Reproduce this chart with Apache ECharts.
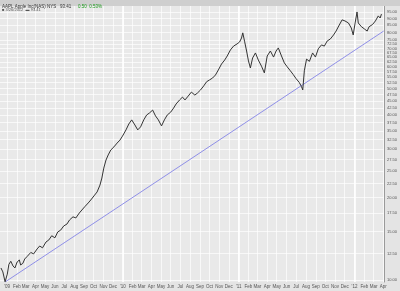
<!DOCTYPE html>
<html><head><meta charset="utf-8">
<script src="https://cdn.jsdelivr.net/npm/echarts@6/dist/echarts.min.js"></script>
<style>html,body{margin:0;padding:0;background:#e4e4e4}#c{width:400px;height:291px}</style>
</head><body><div id="c"></div>
<script>
const dates = ['2008-12-13','2008-12-19','2008-12-26','2009-01-02','2009-01-07','2009-01-13','2009-01-20','2009-01-26','2009-02-02','2009-02-09','2009-02-13','2009-02-20','2009-02-26','2009-03-06','2009-03-17','2009-03-26','2009-04-06','2009-04-14','2009-04-23','2009-05-04','2009-05-13','2009-05-22','2009-06-01','2009-06-10','2009-06-19','2009-06-29','2009-07-09','2009-07-17','2009-07-28','2009-08-06','2009-08-17','2009-08-25','2009-09-03','2009-09-14','2009-09-22','2009-10-02','2009-10-12','2009-10-21','2009-10-27','2009-11-02','2009-11-09','2009-11-16','2009-11-24','2009-12-04','2009-12-14','2009-12-23','2009-12-31','2010-01-11','2010-01-20','2010-01-29','2010-02-08','2010-02-17','2010-02-26','2010-03-08','2010-03-17','2010-03-26','2010-04-05','2010-04-14','2010-04-23','2010-05-03','2010-05-12','2010-05-21','2010-06-01','2010-06-10','2010-06-18','2010-06-29','2010-07-08','2010-07-16','2010-07-26','2010-08-05','2010-08-16','2010-08-24','2010-09-03','2010-09-13','2010-09-22','2010-10-01','2010-10-11','2010-10-20','2010-10-29','2010-11-08','2010-11-18','2010-11-26','2010-12-06','2010-12-16','2010-12-27','2011-01-04','2011-01-10','2011-01-14','2011-01-20','2011-01-26','2011-02-01','2011-02-07','2011-02-14','2011-02-23','2011-03-04','2011-03-14','2011-03-23','2011-04-01','2011-04-11','2011-04-21','2011-04-29','2011-05-06','2011-05-16','2011-05-25','2011-06-03','2011-06-13','2011-06-22','2011-07-01','2011-07-11','2011-07-18','2011-07-22','2011-07-27','2011-08-03','2011-08-12','2011-08-22','2011-08-31','2011-09-09','2011-09-19','2011-09-28','2011-10-07','2011-10-17','2011-10-27','2011-11-04','2011-11-14','2011-11-23','2011-12-02','2011-12-13','2011-12-22','2011-12-28','2012-01-03','2012-01-09','2012-01-13','2012-01-23','2012-02-01','2012-02-10','2012-02-16','2012-02-27','2012-03-07','2012-03-16','2012-03-22','2012-03-26'];
const closes = [11.06,10.7,9.85,10.5,11.4,11.7,11.25,11.06,11.63,11.83,11.34,11.5,11.93,12.2,12.6,12.45,12.98,13.3,13.1,13.76,14.0,14.5,14.25,14.97,15.2,15.75,16.0,16.55,17.0,16.84,17.56,18.0,18.5,19.1,19.58,20.26,20.95,22.2,23.55,25.6,27.4,28.6,29.8,30.6,31.6,32.4,33.5,35.3,37.1,38.4,36.8,35.3,36.2,38.4,40.0,40.7,41.7,39.7,38.4,36.5,38.4,40.0,41.0,42.4,43.9,45.4,46.5,45.4,46.9,48.5,47.3,48.1,49.4,51.1,52.9,53.7,54.6,56.0,58.4,61.4,63.5,65.7,69.1,71.4,72.7,73.9,76.4,79.8,74.0,68.5,63.0,59.4,64.6,67.4,63.5,60.3,57.0,65.7,68.5,65.1,68.5,70.3,65.7,62.0,60.0,58.0,56.2,54.3,52.6,50.8,49.4,58.0,64.0,62.8,67.4,65.1,69.8,72.1,71.4,74.5,75.8,78.4,81.0,85.2,89.0,88.2,86.7,83.1,78.4,86.7,95.1,86.7,84.0,82.5,81.0,84.0,85.6,88.2,92.0,90.4,93.41];
const trendDates = ['2008-12-26','2012-04-02'];
const trendValues = [9.83, 81.0];
const priceTicks = [10,12.5,15,17.5,20,22.5,25,27.5,30,32.5,35,37.5,40,42.5,45,47.5,50,52.5,55,57.5,60,62.5,65,67.5,70,72.5,75,80,85,90,95];
const monthTicks = ['2009-01-01','2009-02-01','2009-03-01','2009-04-01','2009-05-01','2009-06-01','2009-07-01','2009-08-01','2009-09-01','2009-10-01','2009-11-01','2009-12-01','2010-01-01','2010-02-01','2010-03-01','2010-04-01','2010-05-01','2010-06-01','2010-07-01','2010-08-01','2010-09-01','2010-10-01','2010-11-01','2010-12-01','2011-01-01','2011-02-01','2011-03-01','2011-04-01','2011-05-01','2011-06-01','2011-07-01','2011-08-01','2011-09-01','2011-10-01','2011-11-01','2011-12-01','2012-01-01','2012-02-01','2012-03-01','2012-04-01'];
const yearTicks = ['2010-01-01','2011-01-01','2012-01-01'];
const monthNames = ['Jan','Feb','Mar','Apr','May','Jun','Jul','Aug','Sep','Oct','Nov','Dec'];

const ts = s => new Date(s + 'T00:00:00').getTime();
const chart = echarts.init(document.getElementById('c'), null, {renderer:'canvas'});
const xMin = ts('2008-12-10'), xMax = ts('2012-04-03');
const yMin = 9.83, yMax = 100;
const lblFont = 'Liberation Sans, Arial, sans-serif';
chart.setOption({
  animation: false,
  backgroundColor: '#e4e4e4',
  graphic: [
    {type:'rect', left:0, top:0, shape:{width:400, height:6}, style:{fill:'#cfcfcf'}, silent:true, z:10},
    {type:'text', left:2, top:0.5, z:11, style:{
      text:'{a|AAPL Apple Inc(NAS) NYS   93.41}  {g|0.50  0.53%}',
      rich:{a:{fontSize:4.5, fill:'#333', fontFamily:lblFont}, g:{fontSize:4.5, fill:'#1a9a1a', fontFamily:lblFont}}
    }},
    {type:'text', left:2, top:7.5, z:11, style:{text:'\u25A0 3/26/2012  \u25AC 93.41', fontSize:4, fill:'#555', fontFamily:lblFont}}
  ],
  grid: {left:0, right:16, top:6, bottom:9, show:true, backgroundColor:'#e9e9e9', borderWidth:0},
  xAxis: [
    {type:'value', min:xMin, max:xMax,
     axisLine:{show:false}, axisTick:{show:false, customValues:monthTicks.map(ts)},
     axisLabel:{customValues:monthTicks.map(ts), fontSize:4.5, color:'#555', fontFamily:lblFont, margin:2,
       formatter: v => { const d = new Date(v); const m = d.getMonth(); return m===0 ? "'" + String(d.getFullYear()).slice(2) : monthNames[m]; }},
     splitLine:{show:true, lineStyle:{color:'#ffffff', width:0.7}}},
    {type:'value', min:xMin, max:xMax, position:'bottom',
     axisLine:{show:false}, axisTick:{show:false, customValues:yearTicks.map(ts)},
     axisLabel:{show:false, customValues:yearTicks.map(ts)},
     splitLine:{show:true, lineStyle:{color:'#ffffff', width:1.6}}}
  ],
  yAxis: [
    {type:'log', min:yMin, max:yMax, show:false, splitLine:{show:false}},
    {type:'value', position:'right', min:Math.log10(yMin), max:Math.log10(yMax),
     axisLine:{show:true, lineStyle:{color:'#9a9a9a', width:1}},
     axisTick:{show:false, customValues:priceTicks.map(Math.log10)},
     axisLabel:{customValues:priceTicks.map(Math.log10), fontSize:4, color:'#555', fontFamily:lblFont, margin:3,
       formatter: v => Math.pow(10, v).toFixed(2)},
     splitLine:{show:true, lineStyle:{color:'#ffffff', width:0.7}}}
  ],
  series: [
    {type:'line', xAxisIndex:0, yAxisIndex:0, data: dates.map((d,i)=>[ts(d), closes[i]]),
     showSymbol:false, lineStyle:{color:'#333333', width:1}, z:5},
    {type:'line', xAxisIndex:0, yAxisIndex:0, data: trendDates.map((d,i)=>[ts(d), trendValues[i]]),
     showSymbol:false, lineStyle:{color:'#8585e6', width:0.9}, z:4}
  ]
});
</script></body></html>
